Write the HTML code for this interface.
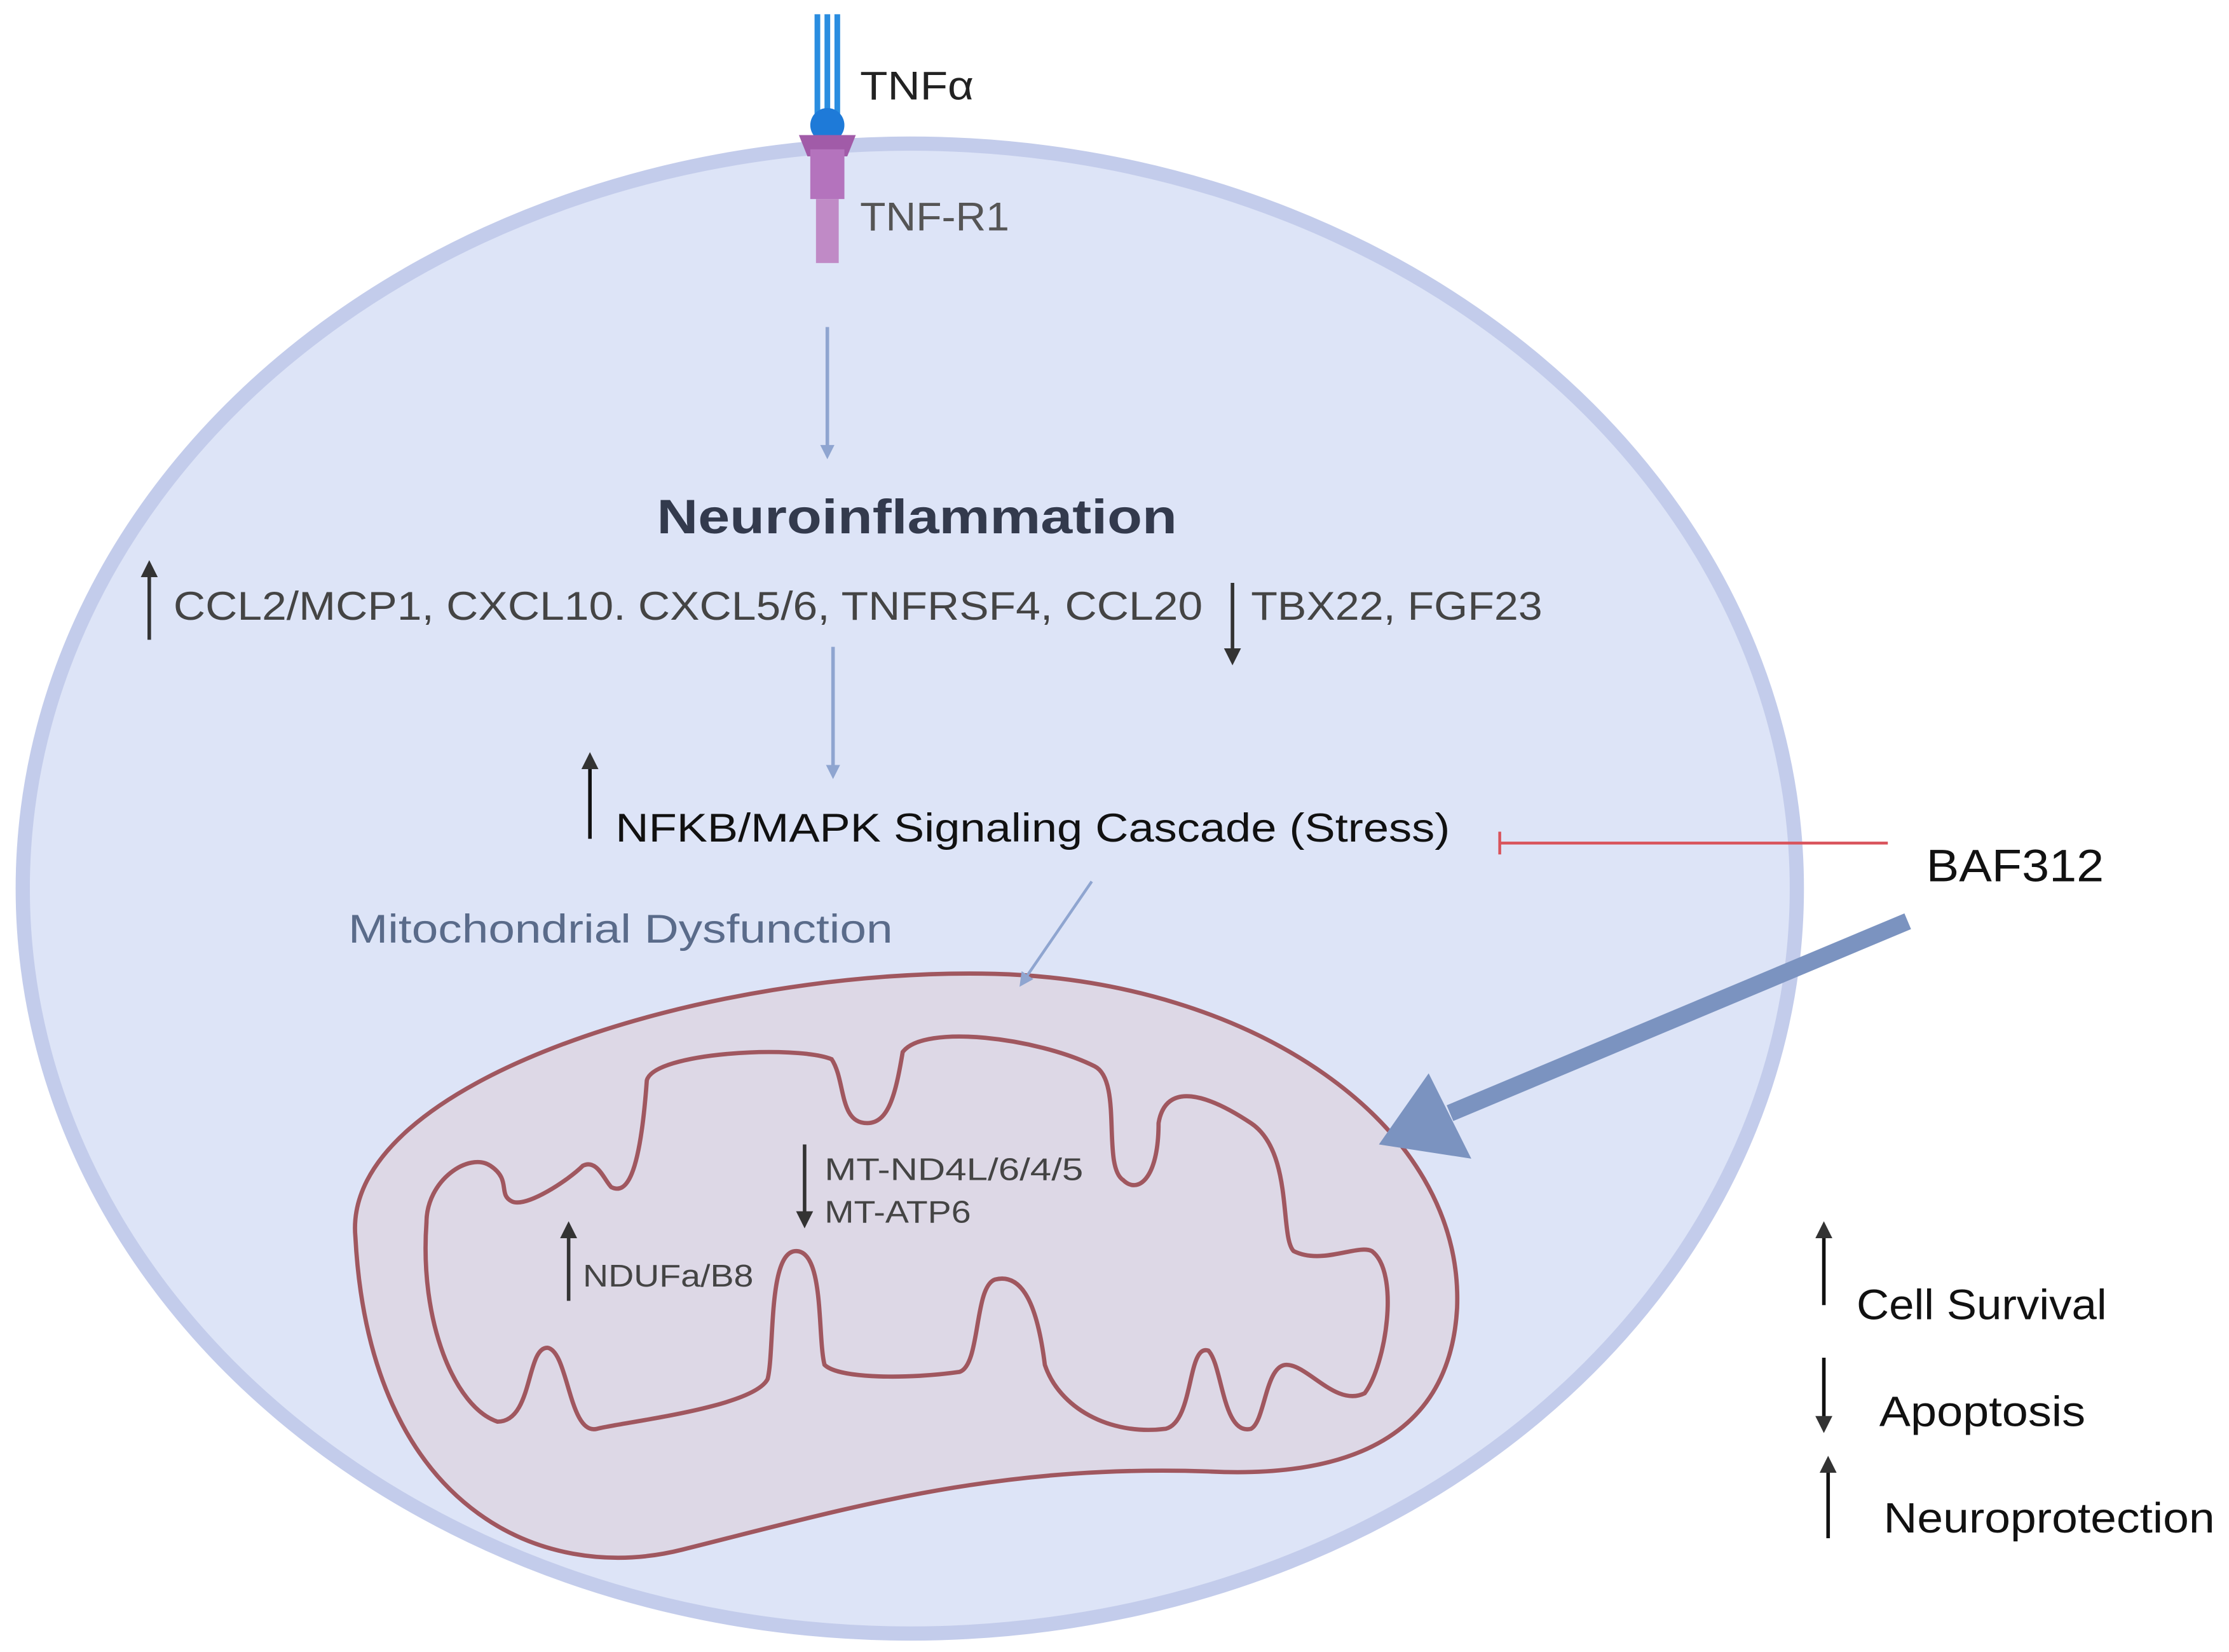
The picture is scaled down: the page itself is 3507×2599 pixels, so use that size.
<!DOCTYPE html>
<html><head><meta charset="utf-8"><style>
html,body{margin:0;padding:0;background:#fff;}
svg{display:block;}
text{font-family:"Liberation Sans",sans-serif;}
</style></head><body>
<svg width="3507" height="2599" viewBox="0 0 1568 1162" xmlns="http://www.w3.org/2000/svg">
<defs>
<marker id="ab" markerWidth="10" markerHeight="10" refX="5" refY="5" orient="auto" markerUnits="userSpaceOnUse"><path d="M0,0 L10,5 L0,10 Z" fill="#8fa5d0"/></marker>
<marker id="ak" markerWidth="12" markerHeight="12" refX="6" refY="6" orient="auto" markerUnits="userSpaceOnUse"><path d="M0,0 L12,6 L0,12 Z" fill="#333"/></marker>
</defs>
<ellipse cx="640" cy="625" rx="624" ry="524" fill="#dde4f7" stroke="#c3cceb" stroke-width="10"/>
<rect x="573" y="10" width="4" height="70" fill="#2a8de0"/>
<rect x="580" y="10" width="4" height="70" fill="#2a8de0"/>
<rect x="587" y="10" width="4" height="70" fill="#2a8de0"/>
<ellipse cx="582" cy="88" rx="12" ry="12" fill="#1e7ad8"/>
<path d="M562 95 L602 95 L596 110 L568 110 Z" fill="#a15ba8"/>
<rect x="570" y="105" width="24" height="35" fill="#b473bd"/>
<rect x="574" y="140" width="16" height="45" fill="#c08ac6"/>
<text x="605" y="70" font-size="28" fill="#222" textLength="80" lengthAdjust="spacingAndGlyphs">TNFα</text>
<text x="605" y="162" font-size="28" fill="#555" textLength="105" lengthAdjust="spacingAndGlyphs">TNF-R1</text>
<line x1="582" y1="230" x2="582" y2="318" stroke="#8fa5d0" stroke-width="2.5" marker-end="url(#ab)"/>
<text x="462" y="375" font-size="34" font-weight="bold" fill="#333a4d" textLength="366" lengthAdjust="spacingAndGlyphs">Neuroinflammation</text>
<line x1="105" y1="450" x2="105" y2="400" stroke="#333" stroke-width="2.5" marker-end="url(#ak)"/>
<text x="122" y="436" font-size="28" fill="#444" textLength="724" lengthAdjust="spacingAndGlyphs">CCL2/MCP1, CXCL10. CXCL5/6, TNFRSF4, CCL20</text>
<line x1="867" y1="410" x2="867" y2="462" stroke="#333" stroke-width="2.5" marker-end="url(#ak)"/>
<text x="880" y="436" font-size="28" fill="#444" textLength="205" lengthAdjust="spacingAndGlyphs">TBX22, FGF23</text>
<line x1="586" y1="455" x2="586" y2="543" stroke="#8fa5d0" stroke-width="2.5" marker-end="url(#ab)"/>
<line x1="415" y1="590" x2="415" y2="535" stroke="#111" stroke-width="2.5" marker-end="url(#ak)"/>
<text x="433" y="592" font-size="28" fill="#111" textLength="587" lengthAdjust="spacingAndGlyphs">NFKB/MAPK Signaling Cascade (Stress)</text>
<line x1="1055" y1="593" x2="1328" y2="593" stroke="#d9535b" stroke-width="2"/>
<line x1="1055" y1="585" x2="1055" y2="601" stroke="#d9535b" stroke-width="2"/>
<text x="1355" y="620" font-size="32" fill="#111" textLength="125" lengthAdjust="spacingAndGlyphs">BAF312</text>
<text x="245" y="663" font-size="28" fill="#5a6b8a" textLength="383" lengthAdjust="spacingAndGlyphs">Mitochondrial Dysfunction</text>
<path d="M250 870 C240 760,500 680,700 685 C880 690,1030 790,1025 920 C1020 1010,950 1040,850 1035 C700 1030,600 1060,480 1090 C380 1115,260 1060,250 870 Z" fill="#ddd8e6" stroke="#a0575f" stroke-width="3"/>
<path d="M300 860 C300 830,330 810,345 820 C360 830,350 840,360 845 C370 850,400 830,410 820 C420 815,425 830,430 835 C440 840,450 830,455 760 C460 740,560 735,585 745 C595 760,590 790,610 790 C625 790,630 770,635 740 C650 720,730 730,770 750 C790 760,775 820,790 830 C800 840,815 830,815 790 C820 760,850 770,880 790 C910 810,900 870,910 880 C930 890,955 875,965 880 C985 895,975 960,960 980 C940 990,920 960,905 960 C890 960,890 1000,880 1005 C860 1010,860 960,850 950 C835 945,840 1000,820 1005 C780 1010,745 990,735 960 C730 920,720 895,700 900 C685 905,690 960,675 965 C640 970,590 970,580 960 C575 940,580 880,560 880 C540 880,545 950,540 970 C530 990,440 1000,420 1005 C400 1010,400 950,385 948 C370 948,375 1000,350 1000 C320 990,295 930,300 860 Z" fill="none" stroke="#a0575f" stroke-width="3"/>
<line x1="768" y1="620" x2="720" y2="690" stroke="#8fa5d0" stroke-width="2" marker-end="url(#ab)"/>
<line x1="566" y1="805" x2="566" y2="858" stroke="#333" stroke-width="2.5" marker-end="url(#ak)"/>
<text x="580" y="830" font-size="22" fill="#444" textLength="182" lengthAdjust="spacingAndGlyphs">MT-ND4L/6/4/5</text>
<text x="580" y="860" font-size="22" fill="#444" textLength="103" lengthAdjust="spacingAndGlyphs">MT-ATP6</text>
<line x1="400" y1="915" x2="400" y2="865" stroke="#333" stroke-width="2.5" marker-end="url(#ak)"/>
<text x="410" y="905" font-size="22" fill="#444" textLength="120" lengthAdjust="spacingAndGlyphs">NDUFa/B8</text>
<line x1="1342" y1="648" x2="1020" y2="783" stroke="#7b93c0" stroke-width="12"/>
<path d="M970 805 L1005 755 L1035 815 Z" fill="#7b93c0"/>
<line x1="1283" y1="918" x2="1283" y2="865" stroke="#111" stroke-width="2.5" marker-end="url(#ak)"/>
<text x="1306" y="928" font-size="30" fill="#111" textLength="176" lengthAdjust="spacingAndGlyphs">Cell Survival</text>
<line x1="1283" y1="955" x2="1283" y2="1002" stroke="#111" stroke-width="2.5" marker-end="url(#ak)"/>
<text x="1322" y="1003" font-size="30" fill="#111" textLength="145" lengthAdjust="spacingAndGlyphs">Apoptosis</text>
<line x1="1286" y1="1082" x2="1286" y2="1030" stroke="#111" stroke-width="2.5" marker-end="url(#ak)"/>
<text x="1325" y="1078" font-size="30" fill="#111" textLength="233" lengthAdjust="spacingAndGlyphs">Neuroprotection</text>
</svg>
</body></html>
